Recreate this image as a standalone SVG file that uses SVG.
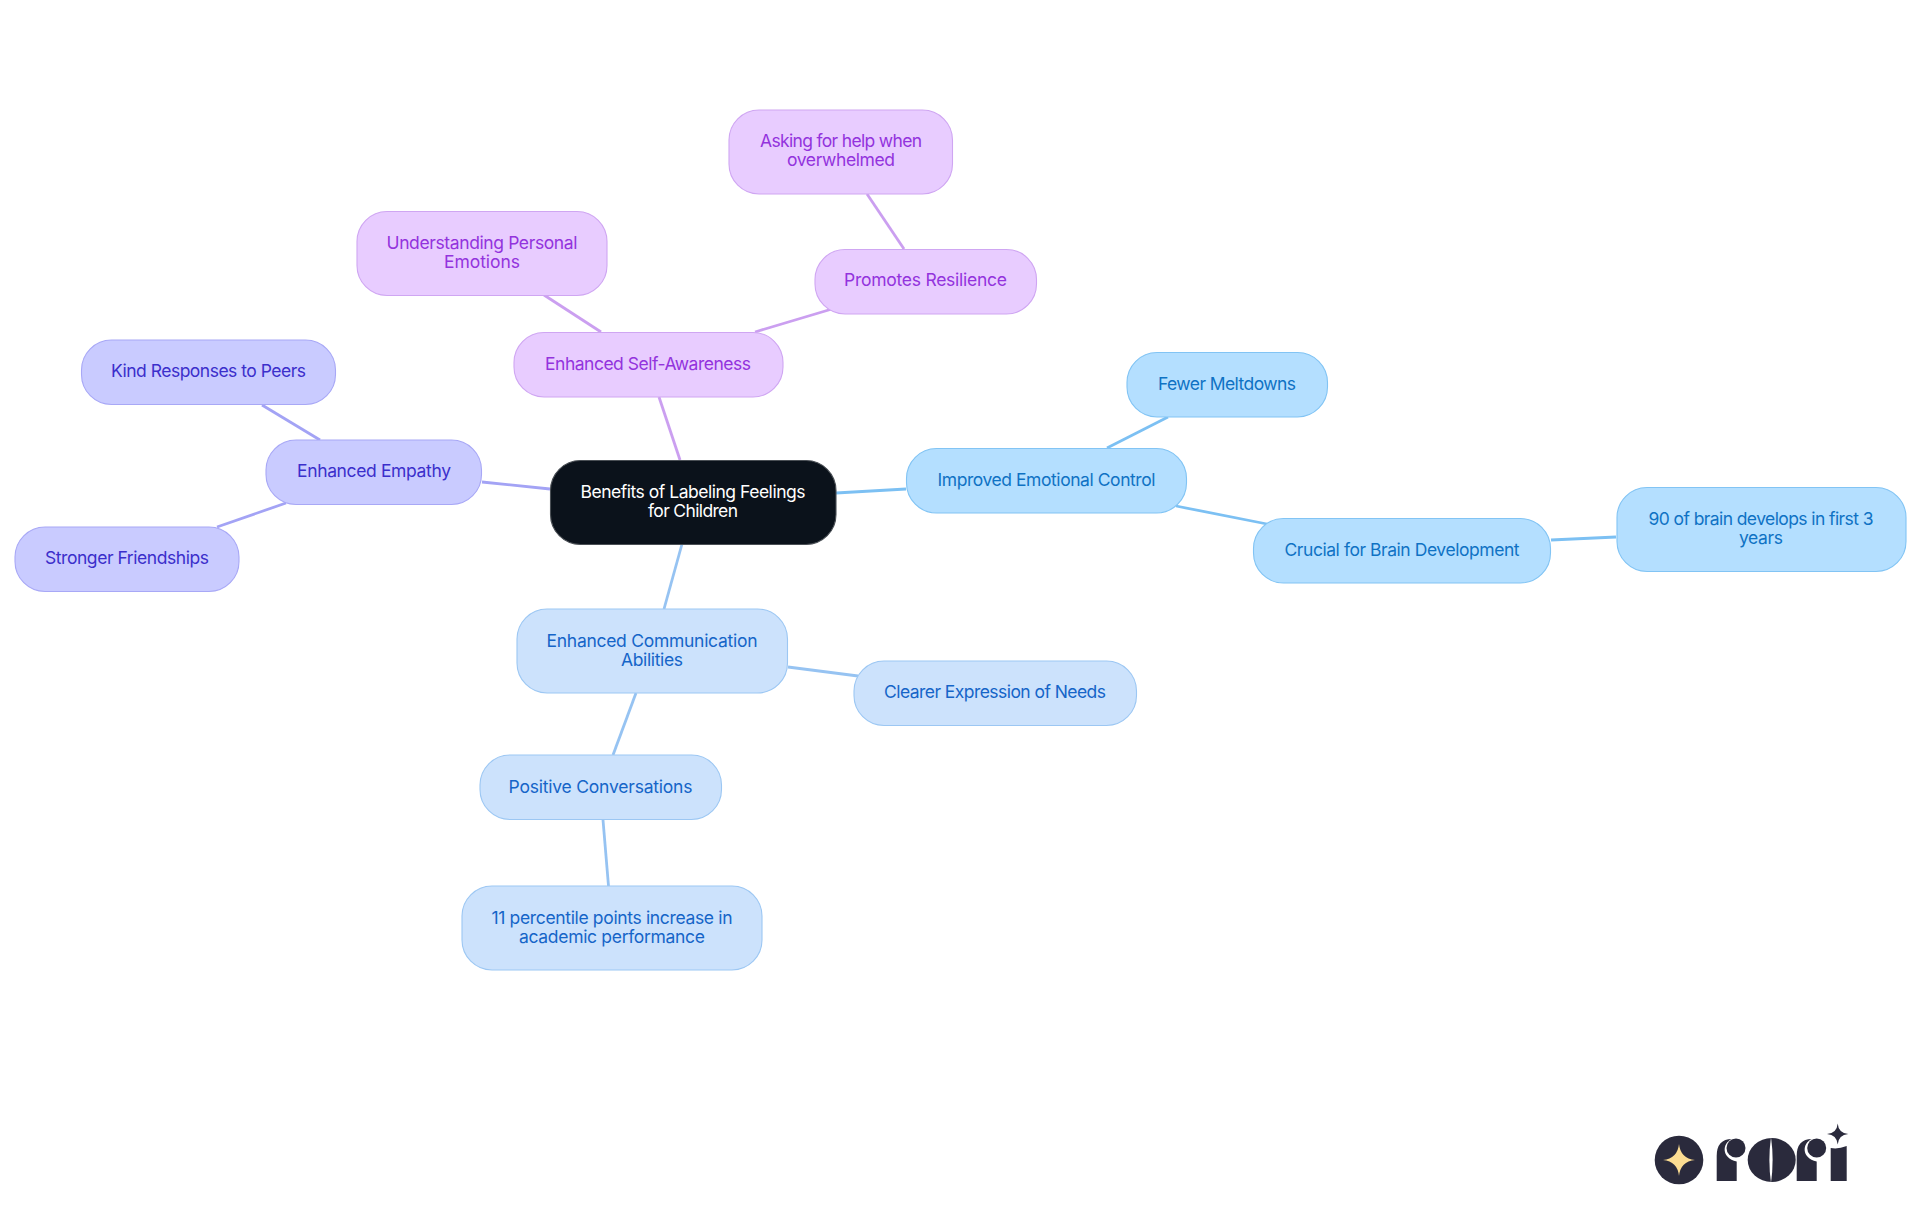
<svg xmlns="http://www.w3.org/2000/svg" width="1920" height="1215" viewBox="0 0 1920 1215">
<style>
text{font-family:Inter,"Liberation Sans",sans-serif;font-size:17.5px;text-anchor:middle}
rect{stroke-width:1.1}
#connectors line{stroke-width:2.8;fill:none}
.root rect{fill:#0b121b;stroke:#4a4f55}.root text{fill:#fff}
.pu rect{fill:#e8ccff;stroke:#cfa6f2}.pu text{fill:#9333dd}
.bl rect{fill:#b4dfff;stroke:#82c4f4}.bl text{fill:#0f72c4}
.lb rect{fill:#cce2fc;stroke:#9cc7f3}.lb text{fill:#1565c8}
.in rect{fill:#c9cbff;stroke:#a8a8f6}.in text{fill:#3b2fcb}
.cpu{stroke:#cb9ff0}.cbl{stroke:#7cc0f3}.clb{stroke:#96c3f2}.cin{stroke:#a3a3f5}
.lg{fill:#2a2a3c}
</style>
<rect width="1920" height="1215" fill="#fff" stroke="none"/>
<g id="connectors">
<line class="cpu" x1="680" y1="460" x2="659" y2="397"/>
<line class="cpu" x1="755" y1="332" x2="832" y2="309"/>
<line class="cpu" x1="904" y1="249" x2="867" y2="194"/>
<line class="cpu" x1="601" y1="332" x2="544" y2="295"/>
<line class="cbl" x1="836" y1="493" x2="906" y2="489"/>
<line class="cbl" x1="1107" y1="448" x2="1168" y2="417"/>
<line class="cbl" x1="1176" y1="506" x2="1267" y2="524"/>
<line class="cbl" x1="1551" y1="540" x2="1616" y2="537"/>
<line class="cin" x1="550" y1="489" x2="482" y2="482"/>
<line class="cin" x1="320" y1="440" x2="262" y2="405"/>
<line class="cin" x1="286" y1="503" x2="217" y2="527"/>
<line class="clb" x1="682" y1="544" x2="664" y2="609"/>
<line class="clb" x1="788" y1="667" x2="858" y2="676"/>
<line class="clb" x1="636" y1="693" x2="613" y2="755"/>
<line class="clb" x1="603" y1="820" x2="608.500" y2="886"/>
</g>
<g id="root" class="root"><rect x="550.500" y="460.500" width="285.500" height="84" rx="30"/><text x="693" y="498" textLength="225">Benefits of Labeling Feelings</text><text x="693" y="517" textLength="90">for Children</text></g>
<g id="self" class="pu"><rect x="514" y="332.500" width="269" height="64.500" rx="30"/><text x="648" y="370" textLength="206">Enhanced Self-Awareness</text></g>
<g id="understanding" class="pu"><rect x="357" y="211.500" width="250" height="84" rx="30"/><text x="482" y="249" textLength="191">Understanding Personal</text><text x="482" y="268" textLength="76">Emotions</text></g>
<g id="resilience" class="pu"><rect x="815" y="249.500" width="221.500" height="64.500" rx="30"/><text x="925.500" y="286" textLength="163">Promotes Resilience</text></g>
<g id="asking" class="pu"><rect x="729" y="110" width="223.500" height="84" rx="30"/><text x="841" y="147" textLength="162">Asking for help when</text><text x="841" y="166" textLength="108">overwhelmed</text></g>
<g id="control" class="bl"><rect x="906.500" y="448.500" width="280" height="64.500" rx="30"/><text x="1046.500" y="486" textLength="218">Improved Emotional Control</text></g>
<g id="meltdowns" class="bl"><rect x="1127" y="352.500" width="200.500" height="64.500" rx="30"/><text x="1227" y="390" textLength="138">Fewer Meltdowns</text></g>
<g id="brain" class="bl"><rect x="1253.500" y="518.500" width="297" height="64.500" rx="30"/><text x="1402" y="556" textLength="235">Crucial for Brain Development</text></g>
<g id="ninety" class="bl"><rect x="1617" y="487.500" width="289" height="84" rx="30"/><text x="1761" y="525" textLength="225">90 of brain develops in first 3</text><text x="1761" y="544" textLength="44">years</text></g>
<g id="empathy" class="in"><rect x="266" y="440" width="215.500" height="64.500" rx="30"/><text x="374" y="477" textLength="154">Enhanced Empathy</text></g>
<g id="kind" class="in"><rect x="81.500" y="340" width="254" height="64.500" rx="30"/><text x="208.500" y="377" textLength="195">Kind Responses to Peers</text></g>
<g id="friendships" class="in"><rect x="15" y="527" width="224" height="64.500" rx="30"/><text x="127" y="564" textLength="164">Stronger Friendships</text></g>
<g id="communication" class="lb"><rect x="517" y="609" width="270.500" height="84" rx="30"/><text x="652" y="647" textLength="211">Enhanced Communication</text><text x="652" y="666" textLength="62">Abilities</text></g>
<g id="needs" class="lb"><rect x="854" y="661" width="282.500" height="64.500" rx="30"/><text x="995" y="698" textLength="222">Clearer Expression of Needs</text></g>
<g id="positive" class="lb"><rect x="480" y="755" width="241.500" height="64.500" rx="30"/><text x="600.500" y="793" textLength="184">Positive Conversations</text></g>
<g id="percentile" class="lb"><rect x="462" y="886" width="300" height="84" rx="30"/><text x="612" y="924" textLength="241">11 percentile points increase in</text><text x="612" y="943" textLength="186">academic performance</text></g>
<g id="logo">
<circle class="lg" cx="1679" cy="1160" r="24.300"/>
<path fill="#fbdc92" d="M1679 1144Q1680.500 1158.500 1695 1160Q1680.500 1161.500 1679 1176Q1677.500 1161.500 1663 1160Q1677.500 1158.500 1679 1144Z"/>
<path class="lg" d="M1716.700 1181V1156Q1716.700 1139 1732 1139C1722 1143 1721 1158 1736.700 1161.500V1181Z"/>
<circle class="lg" cx="1736" cy="1148" r="9.500"/>
<ellipse class="lg" cx="1771.700" cy="1160" rx="24" ry="22"/>
<path fill="#fff" d="M1771 1137Q1767.800 1160 1771 1183Q1774.200 1160 1771 1137Z"/>
<path class="lg" d="M1796.700 1181V1156Q1796.700 1139 1812 1139C1802 1143 1801 1158 1816.700 1161.500V1181Z"/>
<circle class="lg" cx="1816.700" cy="1148" r="9.500"/>
<path class="lg" d="M1830.700 1181V1148Q1838 1149.500 1846.700 1146V1181Z"/>
<path class="lg" d="M1837.700 1123.500Q1838.500 1133.200 1848.300 1134Q1838.500 1134.800 1837.700 1144.500Q1836.900 1134.800 1827 1134Q1836.900 1133.200 1837.700 1123.500Z"/>
</g>
</svg>
